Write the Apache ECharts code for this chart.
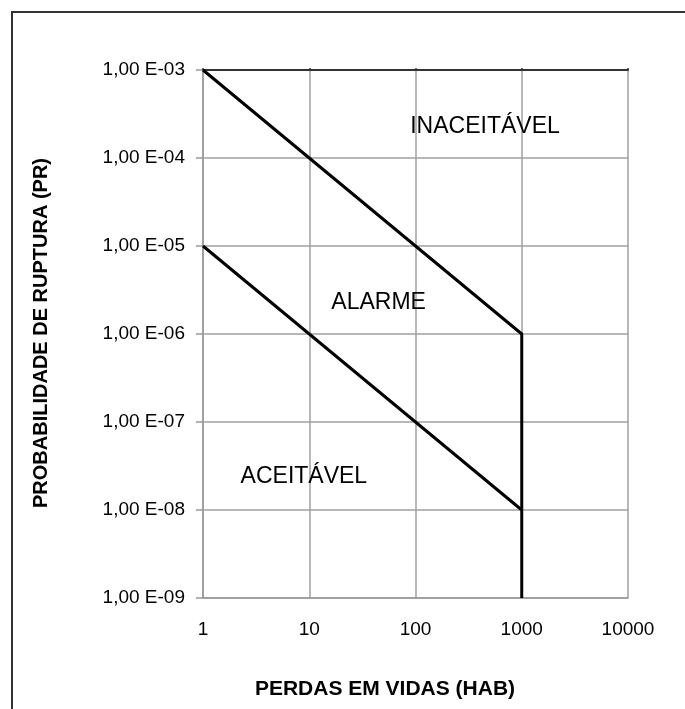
<!DOCTYPE html>
<html>
<head>
<meta charset="utf-8">
<title>Probabilidade de ruptura x perdas em vidas</title>
<script src="https://cdn.jsdelivr.net/npm/echarts@6/dist/echarts.min.js"></script>
<style>
    html, body { margin: 0; padding: 0; background: #fff; }
    #myChart { width: 685px; height: 709px; }
</style>
</head>
<body>
<div id="myChart"></div>
<script>
// dados
var xTicks = [1, 10, 100, 1000, 10000]
var yTicks = [1e-9, 1e-8, 1e-7, 1e-6, 1e-5, 1e-4, 1e-3]
var limiteSuperior = [[1, 1e-3], [1000, 1e-6], [1000, 1e-9]]
var limiteInferior = [[1, 1e-5], [1000, 1e-8]]
var zonaNomes = ['INACEITÁVEL', 'ALARME', 'ACEITÁVEL']
var zonaPos = [[451, 2.25e-4], [45, 2.3e-6], [8.9, 2.4e-8]]

var fonte = '"Liberation Sans", Arial, sans-serif'
var corTexto = '#000'

function fmtY(v) {
    var e = Math.round(Math.log10(v))
    var s = String(Math.abs(e))
    if (s.length < 2) s = '0' + s
    return '1,00 E' + (e < 0 ? '-' : '') + s
}

function _initChart() {
    var myChart = echarts.init(document.getElementById('myChart'))
    var zonas = zonaNomes.map(function (n, i) {
        return { name: n, value: zonaPos[i] }
    })
    var option = {
        animation: false,
        backgroundColor: '#fff',
        grid: { left: 203, right: 57, top: 70, bottom: 111 },
        xAxis: [
            {
                type: 'log',
                logBase: 10,
                min: xTicks[0],
                max: xTicks[xTicks.length - 1],
                axisLine: { lineStyle: { color: '#999', width: 1.5 } },
                axisTick: { show: false },
                axisLabel: {
                    margin: 22,
                    color: corTexto,
                    fontSize: 19,
                    fontFamily: fonte,
                    formatter: function (v) { return String(Math.round(v)) }
                },
                splitLine: { show: true, lineStyle: { color: '#a0a0a0', width: 1.5 } }
            },
            {
                type: 'log',
                logBase: 10,
                position: 'top',
                min: xTicks[0],
                max: xTicks[xTicks.length - 1],
                axisLine: { lineStyle: { color: '#333', width: 2 } },
                axisTick: { show: true, length: 2, lineStyle: { color: '#333', width: 1.5 } },
                axisLabel: { show: false },
                splitLine: { show: false }
            }
        ],
        yAxis: {
            type: 'log',
            logBase: 10,
            min: yTicks[0],
            max: yTicks[yTicks.length - 1],
            axisLine: { lineStyle: { color: '#999', width: 1.5 } },
            axisTick: { show: true, length: 7, lineStyle: { color: '#999', width: 1.5 } },
            axisLabel: {
                margin: 18,
                color: corTexto,
                fontSize: 19,
                fontFamily: fonte,
                formatter: fmtY
            },
            splitLine: { show: true, lineStyle: { color: '#a0a0a0', width: 1.5 } }
        },
        graphic: [
            {
                type: 'rect',
                shape: { x: 12, y: 12, width: 700, height: 720 },
                style: { fill: 'none', stroke: '#333', lineWidth: 2 },
                silent: true
            },
            {
                type: 'text',
                x: 385, y: 689,
                style: {
                    text: 'PERDAS EM VIDAS (HAB)',
                    fill: corTexto,
                    font: 'bold 21px ' + fonte,
                    align: 'center',
                    verticalAlign: 'middle'
                }
            },
            {
                type: 'text',
                x: 41, y: 333,
                rotation: Math.PI / 2,
                style: {
                    text: 'PROBABILIDADE DE RUPTURA (PR)',
                    fill: corTexto,
                    font: 'bold 20px ' + fonte,
                    align: 'center',
                    verticalAlign: 'middle'
                }
            }
        ],
        series: [
            {
                type: 'line',
                data: limiteSuperior,
                symbol: 'none',
                lineStyle: { color: '#000', width: 3 },
                z: 5
            },
            {
                type: 'line',
                data: limiteInferior,
                symbol: 'none',
                lineStyle: { color: '#000', width: 3 },
                z: 5
            },
            {
                type: 'scatter',
                data: zonas,
                symbolSize: 0,
                silent: true,
                itemStyle: { opacity: 1 },
                label: {
                    show: true,
                    position: 'inside',
                    formatter: '{b}',
                    color: corTexto,
                    opacity: 1,
                    fontSize: 23,
                    fontFamily: fonte
                }
            }
        ]
    }
    myChart.setOption(option)
    window.addEventListener('resize', function () {
        myChart.resize()
    })
}

_initChart()
</script>
</body>
</html>
